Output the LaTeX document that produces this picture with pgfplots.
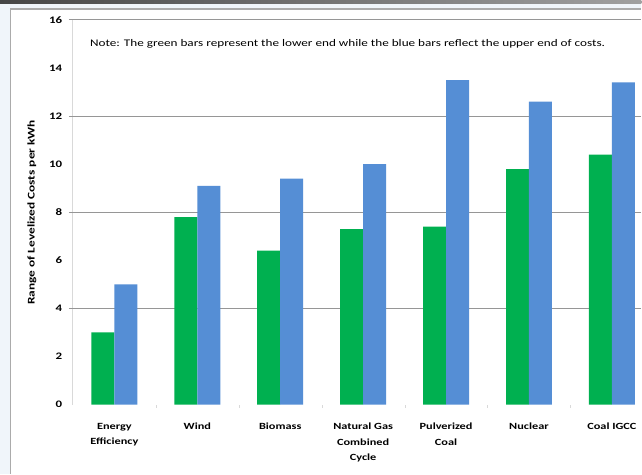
\documentclass[border=0pt]{standalone}
\usepackage{pgfplots}
\pgfplotsset{compat=1.18}
\usepackage{fontspec}
\setmainfont{Carlito}[FakeStretch=1.3]
\definecolor{bargreen}{RGB}{0,176,80}
\definecolor{barblue}{RGB}{85,142,213}
\definecolor{gridc}{RGB}{150,150,150}
\definecolor{axc}{RGB}{217,217,217}
\definecolor{bandL}{RGB}{70,70,70}
\definecolor{bandR}{RGB}{160,160,160}
\definecolor{strip}{RGB}{240,245,250}
\begin{document}
\begin{tikzpicture}
\begin{scope}[x=1bp,y=1bp,shift={(-73bp,-69bp)}]
\fill[white] (0,0) rectangle (642,474);
\fill[strip] (0,0) rectangle (10,470);
\fill[strip] (0,465) rectangle (642,470);
\shade[left color=bandL, right color=bandR] (0,470) rectangle (642,474);
\draw[gridc!80, line width=1.5bp] (10.75,0) -- (10.75,464.75) -- (641.9,464.75);
\node[anchor=base west, inner sep=0pt, font=\fontsize{10.2}{12}\selectfont] at (90,427) {Note: The green bars represent the lower end while the blue bars reflect the upper end of costs.};
\end{scope}
\begin{pgfinterruptboundingbox}
\begin{axis}[
  at={(0,0)}, anchor=south west,
  scale only axis, width=568.5bp, height=385bp,
  xmin=-0.5, xmax=6.3494, ymin=0, ymax=16,
  ybar, ybar=0pt, bar width=23bp,
  axis y line*=left, axis x line*=bottom,
  y axis line style={draw=axc, line width=1bp, -},
  x axis line style={draw=none},
  xtick={0,...,6},
  xticklabels={Energy\\Efficiency, Wind, Biomass, Natural Gas\\Combined\\Cycle, Pulverized\\Coal, Nuclear, Coal IGCC},
  major x tick style={draw=none},
  minor xtick={0.5,1.5,...,5.5},
  minor x tick style={draw=axc},
  minor tick length=3bp,
  tick align=outside,
  xticklabel style={align=center, font=\bfseries\fontsize{9.5}{15.5}\selectfont, yshift=-11bp},
  ytick={0,2,...,16},
  major y tick style={draw=none},
  /pgf/number format/assume math mode=true,
  yticklabel style={font=\bfseries\fontsize{10}{12}\selectfont, xshift=-3bp},
  extra y ticks={4,8,12,16},
  extra y tick labels={},
  extra y tick style={grid=major, major grid style={draw=gridc, line width=1bp}, major tick length=4bp, major y tick style={draw=gridc, line width=1bp}},
  ylabel={Range of Levelized Costs per kWh},
  every axis y label/.style={at={(rel axis cs:0,0.5)}, rotate=90, anchor=center, yshift=41bp, font=\bfseries\fontsize{10.3}{12}\selectfont},
  clip=false,
]
\addplot[fill=bargreen, draw=none] coordinates {(0,3.0) (1,7.8) (2,6.4) (3,7.3) (4,7.4) (5,9.8) (6,10.4)};
\addplot[fill=barblue, draw=none] coordinates {(0,5.0) (1,9.1) (2,9.4) (3,10.0) (4,13.5) (5,12.6) (6,13.4)};
\end{axis}
\end{pgfinterruptboundingbox}
\end{tikzpicture}
\end{document}
